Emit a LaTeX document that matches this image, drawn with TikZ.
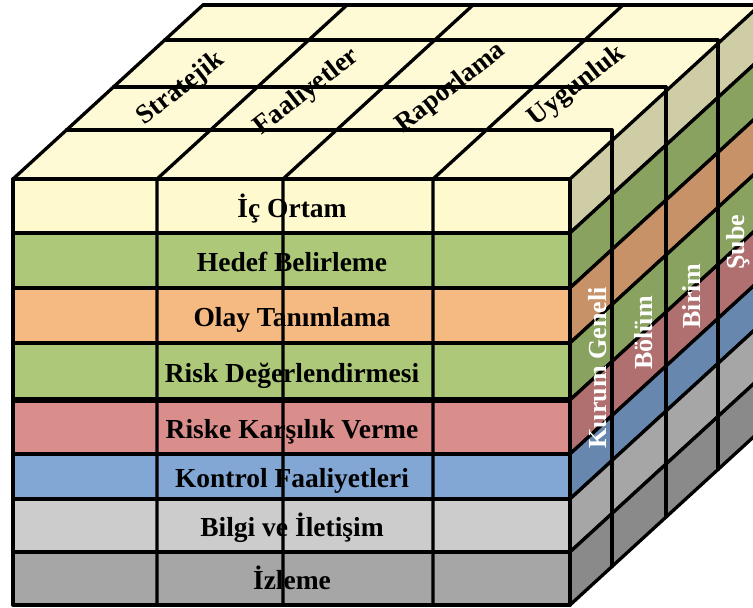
\documentclass[tikz,border=0pt]{standalone}
\usepackage{fontspec}
\setmainfont{Liberation Serif}

% front face colours
\definecolor{fyel}{RGB}{255,250,205}
\definecolor{fgrn}{RGB}{172,200,120}
\definecolor{forg}{RGB}{245,185,130}
\definecolor{fred}{RGB}{218,142,140}
\definecolor{fblu}{RGB}{130,167,212}
\definecolor{flgr}{RGB}{204,204,204}
\definecolor{fdgr}{RGB}{166,166,166}
% side face colours (shaded)
\definecolor{syel}{RGB}{206,205,165}
\definecolor{sgrn}{RGB}{138,162,95}
\definecolor{sorg}{RGB}{200,146,104}
\definecolor{sred}{RGB}{176,112,112}
\definecolor{sblu}{RGB}{104,135,174}
\definecolor{slgr}{RGB}{166,166,166}
\definecolor{sdgr}{RGB}{138,138,138}
% top face
\definecolor{topface}{RGB}{255,250,214}

\tikzset{
  edge/.style={line width=3.3pt, line join=round, line cap=round},
  rowlabel/.style={font=\fontsize{27.5}{32}\selectfont\bfseries, anchor=base, inner sep=0pt},
  toplabel/.style={font=\fontsize{27}{31}\selectfont\bfseries, rotate=38, inner sep=0pt},
  sidelabel/.style={font=\fontsize{26}{30}\selectfont\bfseries, text=white, rotate=90, inner sep=0pt},
}

\begin{document}
\begin{tikzpicture}[x=1pt,y=-1pt]
\useasboundingbox (0,0) rectangle (753,608);
\clip (0,0) rectangle (753,608);

% top face
\fill[topface] (13,179) -- (570,179) -- (760,5) -- (203,5) -- cycle;

% objective labels on the top face
\node[toplabel] (obj1) at (181,89) {Stratejik};
\node[toplabel] (obj2) at (307,92) {Faaliyetler};
\node[toplabel] (obj3) at (451,88) {Raporlama};
\node[toplabel] (obj4) at (577,86) {Uygunluk};

% component rows: front slab and shaded side band
\foreach \ya/\yb/\cf/\cs/\txt [count=\i] in {
  179/233/fyel/syel/{İç Ortam},
  233/288/fgrn/sgrn/{Hedef Belirleme},
  288/343/forg/sorg/{Olay Tanımlama},
  343/400/fgrn/sgrn/{Risk Değerlendirmesi},
  400/454/fred/sred/{Riske Karşılık Verme},
  454/499/fblu/sblu/{Kontrol Faaliyetleri},
  499/552/flgr/slgr/{Bilgi ve İletişim},
  552/605/fdgr/sdgr/{İzleme}}{
  \filldraw[fill=\cs, edge] (570,\ya) -- (760,\ya-174) -- (760,\yb-174) -- (570,\yb) -- cycle;
  \filldraw[fill=\cf, edge] (13,\ya) rectangle (570,\yb);
  \node[rowlabel] (row\i) at (292,{(\ya+\yb)/2+11}) {\txt};
}
\draw[line width=6pt] (13,400) -- (570,400);

% front columns continuing over the top face
\foreach \x in {157,283,433}{
  \draw[edge] (\x,605) -- (\x,179) -- (\x+190,5);
}

% top face depth lines
\draw[edge] (203,5) -- (760,5);
\draw[edge] (164.8,40) -- (718,40);
\draw[edge] (113.5,87) -- (666,87);
\draw[edge] (66.5,130) -- (612,130);
\draw[edge] (13,179) -- (203,5);

% side face depth dividers
\draw[edge] (612,130) -- (612,566.5);
\draw[edge] (666,87) -- (666,517);
\draw[edge] (718,40) -- (718,469.5);

% unit labels on the side face
\node[sidelabel] (unit1) at (598,368) {Kurum Geneli};
\node[sidelabel] (unit2) at (644,333) {Bölüm};
\node[sidelabel] (unit3) at (692,296) {Birim};
\node[sidelabel] (unit4) at (738,242) {Şube};
\end{tikzpicture}
\end{document}
